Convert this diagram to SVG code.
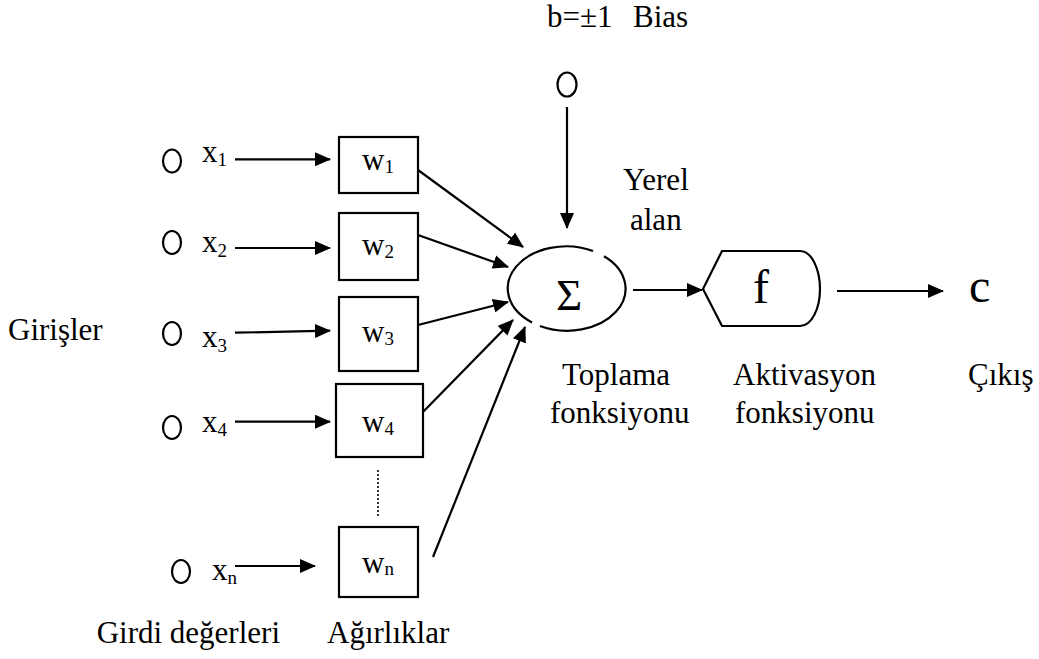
<svg xmlns="http://www.w3.org/2000/svg" width="1039" height="659" viewBox="0 0 1039 659">
  <style>
    text { font-family: "Liberation Serif", "Times New Roman", serif; fill: #000; }
    .lbl { font-size: 31px; }
    .var { font-size: 31px; }
    .sub { font-size: 19px; }
    .shape { fill: none; stroke: #000; stroke-width: 2.2; }
    .in { fill: none; stroke: #000; stroke-width: 2.2; }
    .edge { fill: none; stroke: #000; stroke-width: 2.2; marker-end: url(#arrow); }
  </style>
  <defs>
    <marker id="arrow" markerUnits="userSpaceOnUse" markerWidth="16" markerHeight="14" refX="15" refY="7" orient="auto">
      <path d="M0,0 L16,7 L0,14 Z" fill="#000"/>
    </marker>
  </defs>
  <rect width="1039" height="659" fill="#fff"/>

  <!-- input nodes -->
  <g id="input-1">
    <ellipse class="in" cx="172" cy="161" rx="9" ry="11.5"/>
    <text class="var" x="202" y="162">x<tspan class="sub" dy="4">1</tspan></text>
  </g>
  <g id="input-2">
    <ellipse class="in" cx="172" cy="242.5" rx="9" ry="11.5"/>
    <text class="var" x="202" y="252">x<tspan class="sub" dy="5">2</tspan></text>
  </g>
  <g id="input-3">
    <ellipse class="in" cx="172" cy="333.5" rx="9" ry="11.5"/>
    <text class="var" x="202" y="347">x<tspan class="sub" dy="5">3</tspan></text>
  </g>
  <g id="input-4">
    <ellipse class="in" cx="172" cy="427.5" rx="9" ry="11.5"/>
    <text class="var" x="202" y="432">x<tspan class="sub" dy="4">4</tspan></text>
  </g>
  <g id="input-n">
    <ellipse class="in" cx="181" cy="571.5" rx="9" ry="11.5"/>
    <text class="var" x="212" y="580">x<tspan class="sub" dy="4">n</tspan></text>
  </g>

  <!-- weight nodes -->
  <g id="weight-1">
    <rect class="shape" x="339" y="137" width="79" height="56"/>
    <text class="var" x="362" y="170">w<tspan class="sub" dy="3">1</tspan></text>
  </g>
  <g id="weight-2">
    <rect class="shape" x="339" y="213" width="79" height="67"/>
    <text class="var" x="362" y="255">w<tspan class="sub" dy="3">2</tspan></text>
  </g>
  <g id="weight-3">
    <rect class="shape" x="339" y="297" width="79" height="74"/>
    <text class="var" x="362" y="342">w<tspan class="sub" dy="3">3</tspan></text>
  </g>
  <g id="weight-4">
    <rect class="shape" x="336" y="384" width="87" height="73"/>
    <text class="var" x="362" y="432">w<tspan class="sub" dy="3">4</tspan></text>
  </g>
  <g id="weight-n">
    <rect class="shape" x="339" y="527" width="79" height="70"/>
    <text class="var" x="362" y="573">w<tspan class="sub" dy="2">n</tspan></text>
  </g>

  <!-- bias input -->
  <g id="bias">
    <ellipse class="in" cx="567" cy="84.5" rx="9.5" ry="12"/>
    <text class="lbl" x="547" y="27">b=±1</text>
    <text class="lbl" x="633" y="27">Bias</text>
  </g>

  <!-- summation node -->
  <g id="sum">
    <path class="shape" d="M604,256.2 A58.5,42 0 0 1 540,326 M532,322.4 A58.5,42 0 0 1 593,251"/>
    <text x="569" y="310" font-size="45" text-anchor="middle">Σ</text>
  </g>

  <!-- activation node -->
  <g id="activation">
    <path class="shape" d="M703,289 L722,251 L800,251 C812,251 820,270 820,289 C820,308 812,326 800,326 L722,326 Z"/>
    <text x="761" y="303" font-size="48" text-anchor="middle">f</text>
  </g>

  <!-- output node -->
  <g id="output">
    <text x="969" y="302" font-size="48">c</text>
  </g>

  <!-- connectors -->
  <g id="connectors">
    <line class="edge" x1="235" y1="159.3" x2="330" y2="159.3"/>
    <line class="edge" x1="235" y1="248" x2="330" y2="248"/>
    <line class="edge" x1="235" y1="332.7" x2="330" y2="330.7"/>
    <line class="edge" x1="235" y1="421.7" x2="330" y2="421.7"/>
    <line class="edge" x1="235" y1="566" x2="315" y2="566"/>

    <line class="edge" x1="418" y1="170" x2="523" y2="247"/>
    <line class="edge" x1="418" y1="235" x2="508" y2="267"/>
    <line class="edge" x1="418" y1="325" x2="508" y2="302"/>
    <line class="edge" x1="423" y1="412" x2="513" y2="320"/>
    <line class="edge" x1="433" y1="557" x2="525" y2="327"/>

    <line class="edge" x1="567" y1="107" x2="567" y2="228"/>
    <line class="edge" x1="633" y1="290" x2="702" y2="290"/>
    <line class="edge" x1="837" y1="291" x2="943" y2="291"/>

    <line x1="378" y1="470" x2="378" y2="517" stroke="#000" stroke-width="1.6" stroke-dasharray="2 2"/>
  </g>

  <!-- captions -->
  <g id="captions">
    <text class="lbl" x="8" y="340">Girişler</text>
    <text class="lbl" x="280" y="643" text-anchor="end">Girdi değerleri</text>
    <text class="lbl" x="327" y="643">Ağırlıklar</text>
    <text class="lbl" x="623" y="190">Yerel</text>
    <text class="lbl" x="630" y="230">alan</text>
    <text class="lbl" x="562" y="385">Toplama</text>
    <text class="lbl" x="550" y="423">fonksiyonu</text>
    <text class="lbl" x="733" y="385">Aktivasyon</text>
    <text class="lbl" x="735" y="423">fonksiyonu</text>
    <text class="lbl" x="968" y="385">Çıkış</text>
  </g>
</svg>
